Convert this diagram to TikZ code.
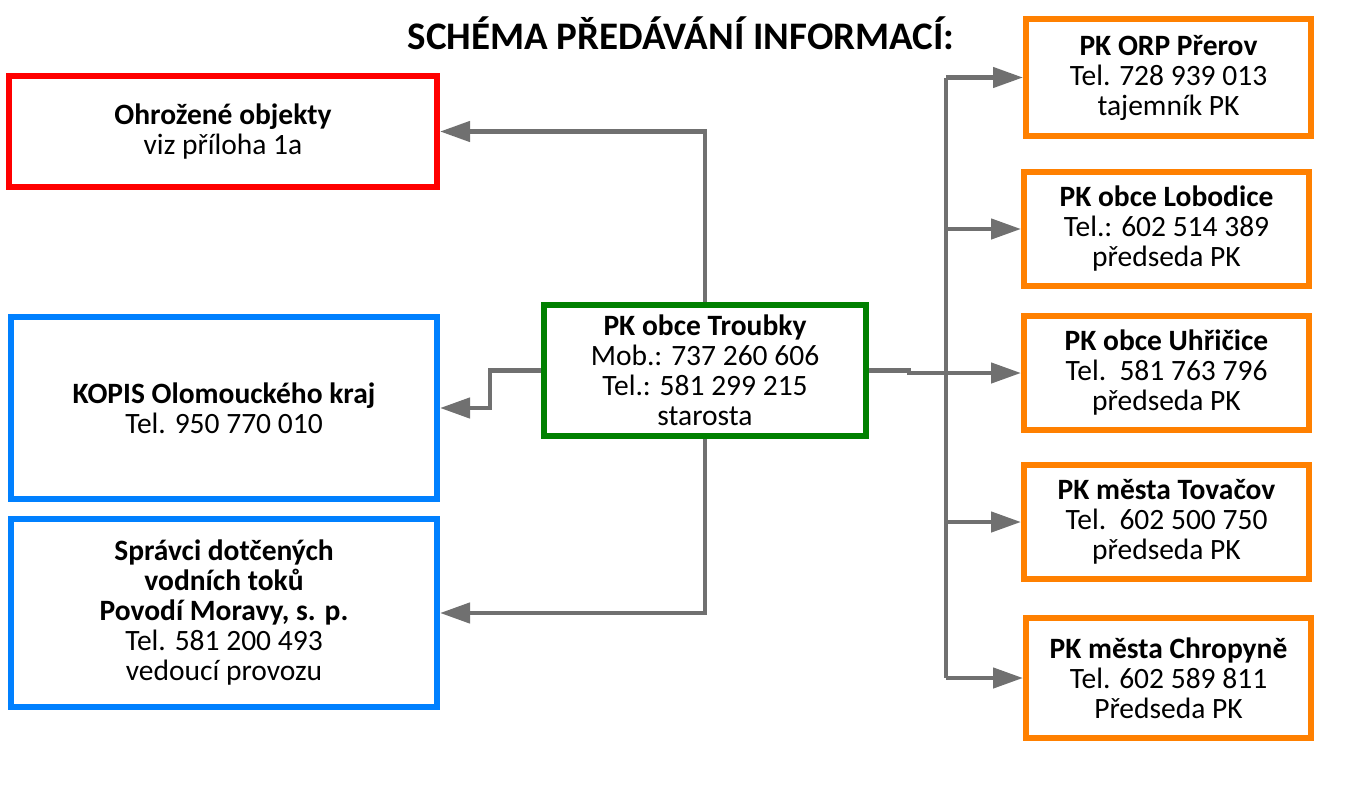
\documentclass[tikz,border=0pt]{standalone}
\usepackage{fontspec}
\setmainfont{Carlito}
\usepackage{tikz}
\usetikzlibrary{arrows.meta}

\definecolor{boxred}{RGB}{255,0,0}
\definecolor{boxblue}{RGB}{0,128,255}
\definecolor{boxgreen}{RGB}{0,128,0}
\definecolor{boxorange}{RGB}{255,128,0}
\definecolor{linegray}{RGB}{112,112,112}

\begin{document}
\begin{tikzpicture}[x=1pt,y=-1pt,
	every node/.style={black,align=center,inner sep=0pt,font=\fontsize{29.5}{30}\selectfont},
	infobox/.style={draw=#1,line width=6pt,fill=white},
	conn/.style={draw=linegray,line width=4.5pt,-{Triangle[length=30pt,width=20pt]}}]
	\useasboundingbox (0,0) rectangle (1360,787);

	\node[font=\fontsize{39}{40}\selectfont\bfseries] (title) at (681,33) {SCHÉMA PŘEDÁVÁNÍ INFORMACÍ:};

	\node[infobox=boxred,minimum width=428pt,minimum height=111pt] (ohrozene) at (223,131.5)
		{\textbf{Ohrožené objekty}\\viz příloha 1a};
	\node[infobox=boxblue,minimum width=426pt,minimum height=182pt] (kopis) at (224,408)
		{\textbf{KOPIS Olomouckého kraj}\\Tel. 950 770 010};
	\node[infobox=boxblue,minimum width=426pt,minimum height=188pt] (spravci) at (224,613)
		{\textbf{Správci dotčených}\\\textbf{vodních toků}\\\textbf{Povodí Moravy, s. p.}\\Tel. 581 200 493\\vedoucí provozu};
	\node[infobox=boxgreen,minimum width=322pt,minimum height=131pt] (troubky) at (705,370.5)
		{\textbf{PK obce Troubky}\\Mob.: 737 260 606\\Tel.: 581 299 215\\starosta};

	\node[infobox=boxorange,minimum width=285pt,minimum height=117pt] (orp) at (1168.5,77.5)
		{\textbf{PK ORP Přerov}\\Tel. 728 939 013\\tajemník PK};
	\node[infobox=boxorange,minimum width=285pt,minimum height=114pt] (lobodice) at (1166.5,229)
		{\textbf{PK obce Lobodice}\\Tel.: 602 514 389\\předseda PK};
	\node[infobox=boxorange,minimum width=285pt,minimum height=114pt] (uhricice) at (1166.5,373)
		{\textbf{PK obce Uhřičice}\\Tel.\ \ 581 763 796\\předseda PK};
	\node[infobox=boxorange,minimum width=285pt,minimum height=114pt] (tovacov) at (1166.5,522)
		{\textbf{PK města Tovačov}\\Tel.\ \ 602 500 750\\předseda PK};
	\node[infobox=boxorange,minimum width=285pt,minimum height=120pt] (chropyne) at (1168.5,678)
		{\textbf{PK města Chropyně}\\Tel. 602 589 811\\Předseda PK};

	\coordinate (bus) at (946,370);

	\draw[conn] (troubky.north) |- (ohrozene.east);
	\draw[conn] (troubky.west) -- ++(-51,0) |- (kopis.east);
	\draw[conn] (troubky.south) |- (spravci.east);

	\draw[draw=linegray,line width=4.5pt] (bus |- orp.west) -- (bus |- chropyne.west);
	\draw[conn] (troubky.east) -- ++(40,0) |- (uhricice.west);
	\foreach \n in {orp,lobodice,tovacov,chropyne}
		\draw[conn] (bus |- \n.west) -- (\n.west);
\end{tikzpicture}
\end{document}
